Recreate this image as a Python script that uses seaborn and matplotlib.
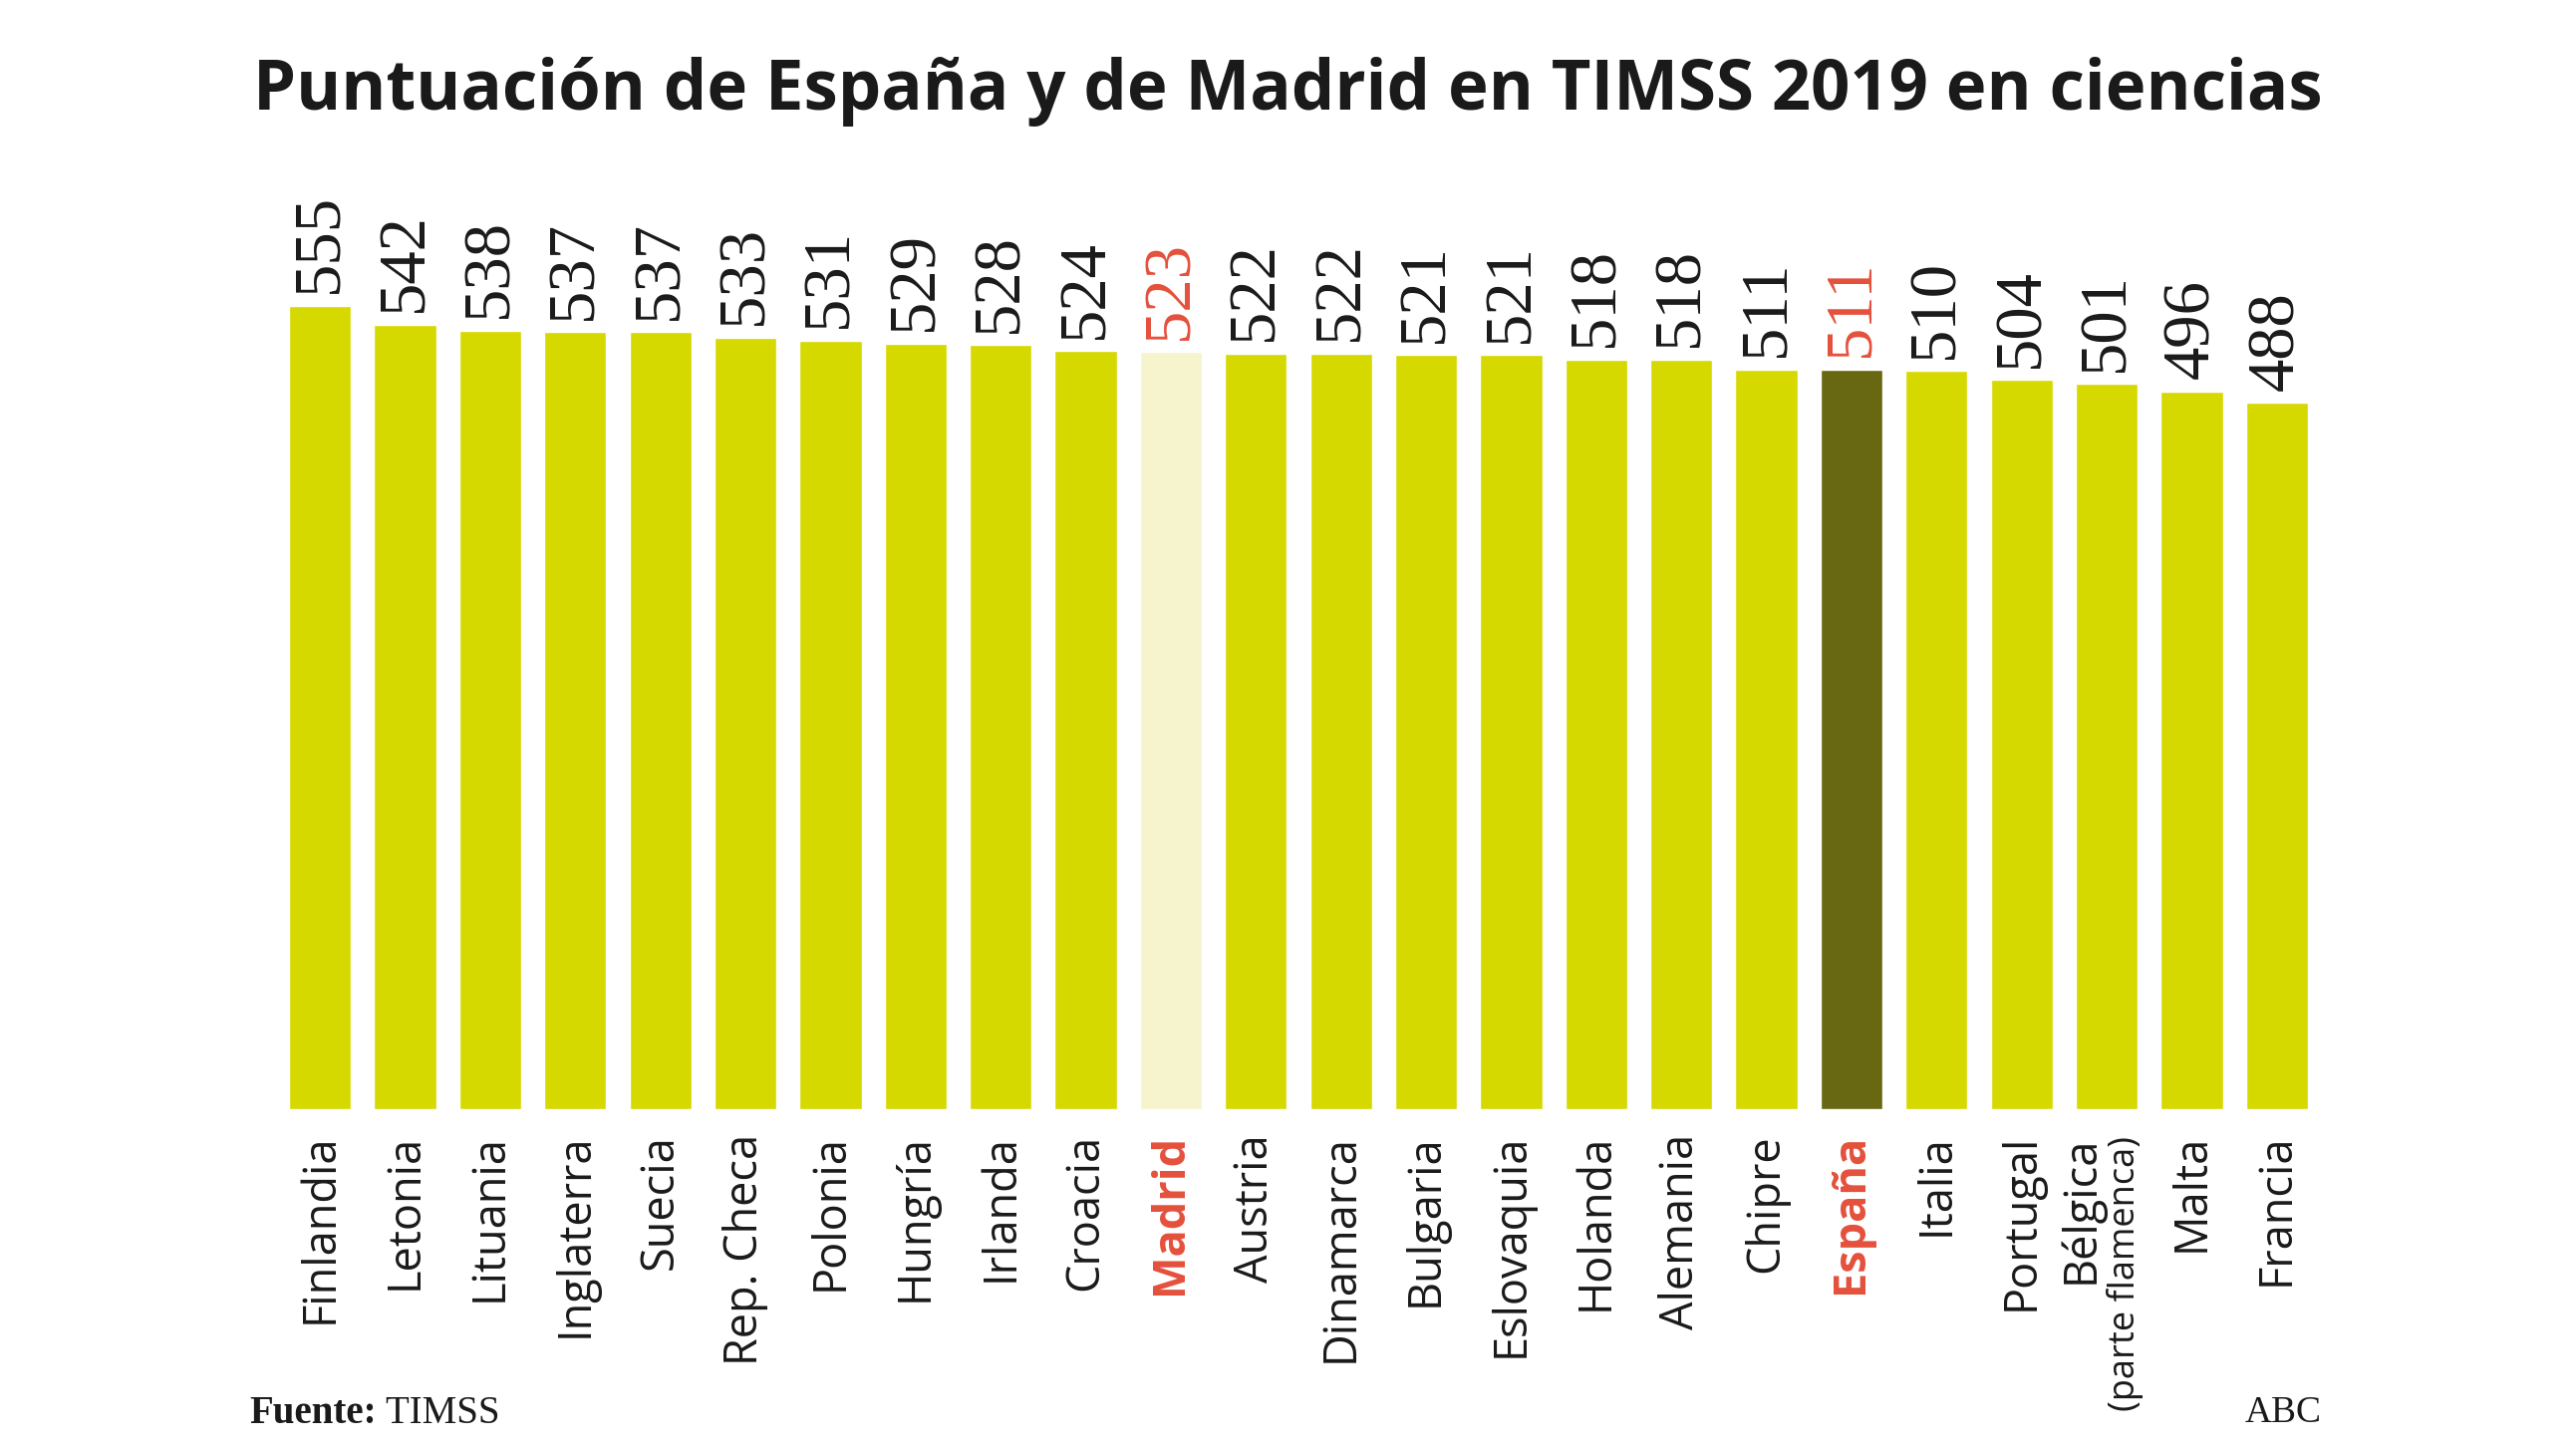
import matplotlib
matplotlib.use("Agg")
import matplotlib.pyplot as plt
import seaborn as sns
import pandas as pd
from matplotlib.transforms import blended_transform_factory

countries = ["Finlandia", "Letonia", "Lituania", "Inglaterra", "Suecia", "Rep. Checa",
             "Polonia", "Hungría", "Irlanda", "Croacia", "Madrid", "Austria", "Dinamarca",
             "Bulgaria", "Eslovaquia", "Holanda", "Alemania", "Chipre", "España", "Italia",
             "Portugal", "Bélgica", "Malta", "Francia"]
scores = [555, 542, 538, 537, 537, 533, 531, 529, 528, 524, 523, 522, 522,
          521, 521, 518, 518, 511, 511, 510, 504, 501, 496, 488]
highlight = ["Madrid", "España"]

title = "Puntuación de España y de Madrid en TIMSS 2019 en ciencias"
source_bold = "Fuente:"
source_rest = " TIMSS"
brand = "ABC"
belgica_sub = "(parte flamenca)"

BASE = "#D5D900"
MADRID = "#F6F4CC"
ESPANA = "#676811"
RED = "#E4503C"
INK = "#1A1A1A"

sns.set_theme(style="white")
plt.rcParams["font.family"] = ["Open Sans", "DejaVu Sans"]

df = pd.DataFrame({"pais": countries, "puntos": scores})
palette = {c: (MADRID if c == "Madrid" else ESPANA if c == "España" else BASE) for c in countries}

W, H = 2585, 1455
fig = plt.figure(figsize=(W / 100, H / 100), dpi=100)
bottom_px, top_px = 1113, 242
ax = fig.add_axes([290 / W, 1 - bottom_px / H, (2316 - 290) / W, (bottom_px - top_px) / H])

sns.barplot(data=df, x="pais", y="puntos", hue="pais", palette=palette, legend=False,
            width=0.73, saturation=1, ax=ax, order=countries)
ax.set_xlim(-0.365, len(countries) - 1 + 0.365)
ax.set_ylim(0, 555 * (bottom_px - top_px) / (1113 - 307))
for s in ax.spines.values():
    s.set_visible(False)
ax.set_yticks([])
ax.set_xlabel("")
ax.set_ylabel("")
ax.tick_params(axis="x", length=0, pad=18)
ax.set_xticks(range(len(countries)))
labels = [("" if c == "Bélgica" else c) for c in countries]
ax.set_xticklabels(labels, rotation=90, fontsize=32.5, color=INK)
for t, c in zip(ax.get_xticklabels(), countries):
    if c in highlight:
        t.set_color(RED)
        t.set_fontweight("bold")

# Bélgica two-line label
bi = countries.index("Bélgica")
tr = blended_transform_factory(ax.transData, ax.transAxes)
lab_top = -(1140 - bottom_px) / (bottom_px - top_px)
ax.text(bi - 0.30, lab_top, "Bélgica", rotation=90, ha="center", va="top",
        fontsize=32.5, color=INK, transform=tr)
ax.text(bi + 0.22, lab_top, belgica_sub, rotation=90, ha="center", va="top",
        fontsize=26, color=INK, transform=tr)

# value labels
for i, (c, v) in enumerate(zip(countries, scores)):
    ax.annotate(str(v), (i, v), xytext=(0, 9), textcoords="offset points",
                rotation=90, ha="center", va="bottom", fontsize=48,
                family="Liberation Serif", color=RED if c in highlight else INK)

fig.text(0.5, 1 - 92 / H, title, ha="center", va="center", fontsize=49.5,
         fontweight="bold", color=INK)

ft = fig.text(250 / W, 1 - 1418 / H, source_bold, ha="left", va="center", fontsize=28,
              fontweight="bold", family="Liberation Serif", color=INK)
fig.canvas.draw()
bb = ft.get_window_extent()
fig.text(bb.x1 / W, 1 - 1418 / H, source_rest, ha="left", va="center", fontsize=28,
         family="Liberation Serif", color=INK)
fig.text(2330 / W, 1 - 1418 / H, brand, ha="right", va="center", fontsize=27,
         family="Liberation Serif", color=INK)

fig.savefig("out.png", dpi=100, facecolor="white")
